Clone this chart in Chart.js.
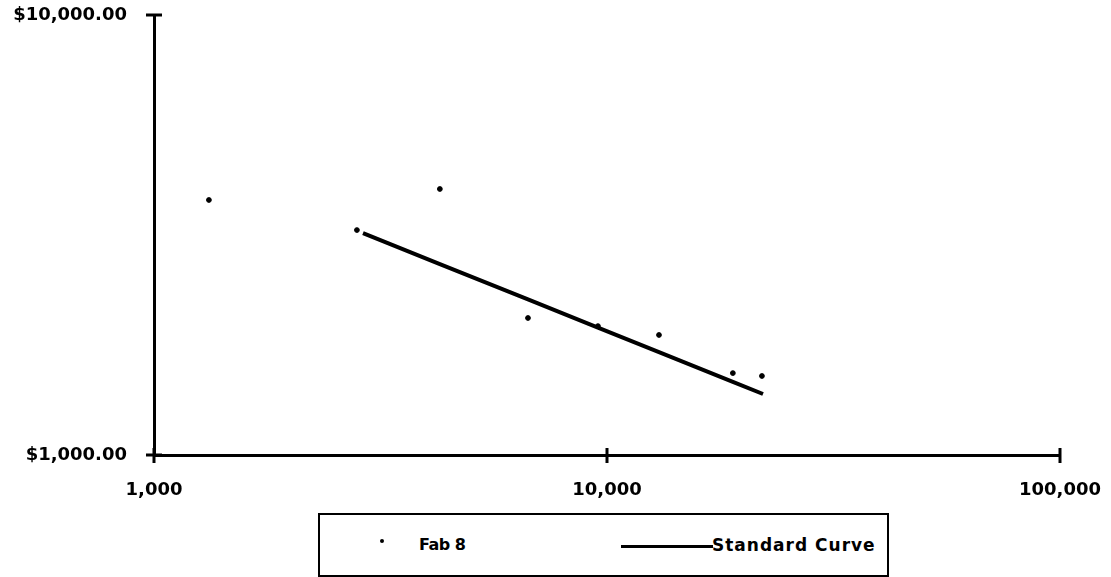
<!DOCTYPE html>
<html>
<head>
<meta charset="utf-8">
<script src="https://cdn.jsdelivr.net/npm/chart.js@4.4.1/dist/chart.umd.min.js"></script>
<style>
  html, body { margin: 0; padding: 0; background: #fff; }
  #wrap { position: relative; width: 1111px; height: 577px; }
  #legend {
    position: absolute; left: 318px; top: 513px; width: 567px; height: 60px;
    border: 2px solid #000; background: #fff;
    font-family: "DejaVu Sans", sans-serif; font-weight: bold; font-size: 17px;
  }
  #legend .dot { position: absolute; left: 60px; top: 24px; width: 4px; height: 4px; border-radius: 50%; background: #000; }
  #legend .lab1 { position: absolute; left: 99px; top: 20px; font-size: 16px; letter-spacing: -0.5px; }
  #legend .line { position: absolute; left: 301px; top: 30px; width: 92px; height: 3px; background: #000; }
  #legend .lab2 { position: absolute; left: 392px; top: 20px; letter-spacing: 1px; }
</style>
</head>
<body>
<div id="wrap">
  <canvas id="c"></canvas>
  <div id="legend"></div>
</div>
<script>
// Fab 8 unit cost observations (cumulative units vs. cost per unit)
const fabUnits = [1322, 2805, 4276, 6692, 9550, 13024, 18960, 21980];
const fabCost  = [3798, 3245, 4023, 2048, 1963, 1874, 1535, 1512];

// Standard learning curve
const curveUnits = [2893, 4276, 6692, 9550, 13024, 18960, 22100];
const curveCost  = [3195, 2716, 2258, 1948, 1713, 1466, 1376];

// Axis ticks
const xTicks = [1000, 10000, 100000];
const xTickLabels = ['1,000', '10,000', '100,000'];
const yTicks = [1000, 10000];
const yTickLabels = ['$1,000.00', '$10,000.00'];

const seriesNames = ['Fab 8', 'Standard Curve'];

const FONT = { family: '"DejaVu Sans", sans-serif', weight: 'bold', size: 18 };
const XFONT = { family: '"DejaVu Sans", sans-serif', weight: 'bold', size: 18 };

// Tick marks that cross the axis line on both sides
const crossTicks = {
  id: 'crossTicks',
  afterDraw(chart) {
    const { ctx, chartArea, scales } = chart;
    ctx.save();
    ctx.strokeStyle = '#000';
    ctx.lineWidth = 3;
    ctx.lineCap = 'butt';
    xTicks.forEach(v => {
      const px = scales.x.getPixelForValue(v);
      ctx.beginPath();
      ctx.moveTo(px, chartArea.bottom - 7);
      ctx.lineTo(px, chartArea.bottom + 8);
      ctx.stroke();
    });
    yTicks.forEach(v => {
      const py = scales.y.getPixelForValue(v);
      ctx.beginPath();
      ctx.moveTo(chartArea.left - 8, py);
      ctx.lineTo(chartArea.left + 8, py);
      ctx.stroke();
    });
    ctx.restore();
  }
};

new Chart(document.getElementById('c'), {
  type: 'scatter',
  data: {
    datasets: [
      {
        label: seriesNames[0],
        data: fabUnits.map((u, i) => ({ x: u, y: fabCost[i] })),
        backgroundColor: '#000',
        borderColor: '#000',
        pointRadius: 2.4,
        pointHoverRadius: 2.4,
        showLine: false
      },
      {
        label: seriesNames[1],
        type: 'line',
        data: curveUnits.map((u, i) => ({ x: u, y: curveCost[i] })),
        borderColor: '#000',
        borderWidth: 4,
        pointRadius: 0,
        tension: 0,
        fill: false
      }
    ]
  },
  options: {
    responsive: true,
    maintainAspectRatio: false,
    animation: false,
    layout: { padding: { left: 0, top: 15, right: 51, bottom: 0 } },
    plugins: { legend: { display: false }, tooltip: { enabled: false } },
    scales: {
      x: {
        type: 'logarithmic',
        min: 1000, max: 100000,
        afterBuildTicks: s => { s.ticks = xTicks.map(v => ({ value: v })); },
        afterFit: s => { s.height = 122; s.paddingLeft = 0; s.paddingRight = 0; },
        grid: { display: true, drawOnChartArea: false, drawTicks: false },
        border: { display: true, color: '#000', width: 3 },
        ticks: {
          color: '#000', font: XFONT, padding: 25, maxRotation: 0, autoSkip: false,
          callback: (v, i) => xTickLabels[i]
        }
      },
      y: {
        type: 'logarithmic',
        min: 1000, max: 10000,
        afterBuildTicks: s => { s.ticks = yTicks.map(v => ({ value: v })); },
        afterFit: s => { s.width = 154; s.paddingTop = 0; s.paddingBottom = 0; },
        grid: { display: true, drawOnChartArea: false, drawTicks: false },
        border: { display: true, color: '#000', width: 3 },
        ticks: {
          color: '#000', font: FONT, padding: 27, autoSkip: false,
          callback: (v, i) => yTickLabels[i]
        }
      }
    }
  },
  plugins: [crossTicks]
});

// Legend below the plot
const leg = document.getElementById('legend');
leg.innerHTML =
  '<span class="dot"></span><span class="lab1"></span>' +
  '<span class="line"></span><span class="lab2"></span>';
leg.querySelector('.lab1').textContent = seriesNames[0];
leg.querySelector('.lab2').textContent = seriesNames[1];
</script>
</body>
</html>
